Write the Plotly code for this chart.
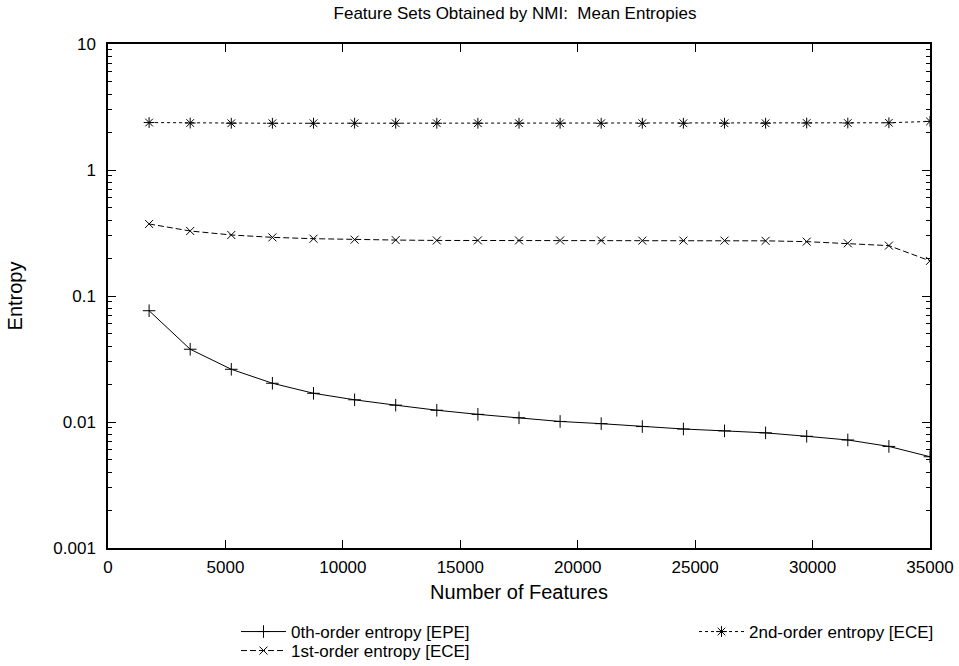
import plotly.graph_objects as go

features = [1750, 3500, 5250, 7000, 8750, 10500, 12250, 14000, 15750, 17500,
            19250, 21000, 22750, 24500, 26250, 28000, 29750, 31500, 33250, 35000]
epe0 = [0.0764, 0.0378, 0.0262, 0.0203, 0.0169, 0.0150, 0.0136, 0.0124, 0.0115, 0.0108,
        0.0101, 0.0097, 0.0092, 0.0088, 0.0085, 0.0082, 0.0077, 0.0072, 0.0064, 0.0053]
ece1 = [0.373, 0.328, 0.305, 0.292, 0.285, 0.280, 0.278, 0.276, 0.276, 0.276,
        0.276, 0.276, 0.275, 0.275, 0.275, 0.274, 0.270, 0.262, 0.251, 0.190]
ece2 = [2.38, 2.36, 2.35, 2.35, 2.35, 2.35, 2.35, 2.35, 2.35, 2.35,
        2.35, 2.35, 2.35, 2.35, 2.35, 2.35, 2.36, 2.36, 2.37, 2.43]

names = ["0th-order entropy [EPE]", "1st-order entropy [ECE]", "2nd-order entropy [ECE]"]
y_ticks = [0.001, 0.01, 0.1, 1, 10]
y_ticktext = ["0.001", "0.01", "0.1", "1", "10"]
x_ticks = [0, 5000, 10000, 15000, 20000, 25000, 30000, 35000]
x_ticktext = ["0", "5000", "10000", "15000", "20000", "25000", "30000", "35000"]

FONT = "Liberation Sans, Arial, sans-serif"
fig = go.Figure()
fig.add_trace(go.Scatter(x=features, y=epe0, name=names[0], mode="lines+markers",
                         line=dict(color="black", width=1),
                         marker=dict(symbol="cross-thin", size=9, line=dict(color="black", width=1)),
                         legend="legend"))
fig.add_trace(go.Scatter(x=features, y=ece1, name=names[1], mode="lines+markers",
                         line=dict(color="black", width=1, dash="6px,3px"),
                         marker=dict(symbol="x-thin", size=8, line=dict(color="black", width=1)),
                         legend="legend3"))
fig.add_trace(go.Scatter(x=features, y=ece2, name=names[2], mode="lines+markers",
                         line=dict(color="black", width=1, dash="3px,3px"),
                         marker=dict(symbol="asterisk", size=9, line=dict(color="black", width=1)),
                         legend="legend2"))

minor_vals = []
for d in [0.001, 0.01, 0.1, 1]:
    for k in range(2, 10):
        minor_vals.append(d * k)

W, H = 959, 666
L, R, T, B = 108, 29, 44, 118
PW, PH = W - L - R, H - T - B


def leg(xpx, ypx):
    return dict(x=(xpx - L) / PW, y=(H - B - ypx) / PH, xref="paper", yref="paper",
                xanchor="left", yanchor="middle", orientation="v",
                bgcolor="rgba(0,0,0,0)", font=dict(size=17), itemwidth=45)


fig.update_layout(
    width=W, height=H,
    margin=dict(l=L, r=R, t=T, b=B, autoexpand=False),
    paper_bgcolor="white", plot_bgcolor="white",
    font=dict(family=FONT, size=17, color="black"),
    title=dict(text="Feature Sets Obtained by NMI:  Mean Entropies", x=515 / W, xanchor="center",
               xref="container", y=1 - 13 / H, yanchor="middle", font=dict(size=17)),
    xaxis=dict(range=[0, 35000], tickvals=x_ticks, ticktext=x_ticktext, ticks="inside", ticklen=8,
               tickcolor="black", ticklabelstandoff=3, automargin=False,
               showline=True, linecolor="black", linewidth=1.5, mirror="ticks", showgrid=False,
               zeroline=False, title=dict(text="Number of Features", standoff=9)),
    yaxis=dict(type="log", range=[-3, 1], tickvals=y_ticks, ticktext=y_ticktext,
               ticks="inside", ticklen=8, tickcolor="black", ticklabelstandoff=7, automargin=False,
               showline=True, linecolor="black", linewidth=1.5, mirror="ticks", showgrid=False,
               zeroline=False, title=dict(text="Entropy", standoff=25),
               minor=dict(tickvals=minor_vals, ticks="inside", ticklen=4, tickcolor="black",
                          showgrid=False)),
    legend=leg(236, 632),
    legend3=leg(236, 651),
    legend2=leg(694, 632),
    showlegend=True,
)

fig.write_html("out.html", config={"displayModeBar": False},
               post_script="document.body.style.margin='0px';")
